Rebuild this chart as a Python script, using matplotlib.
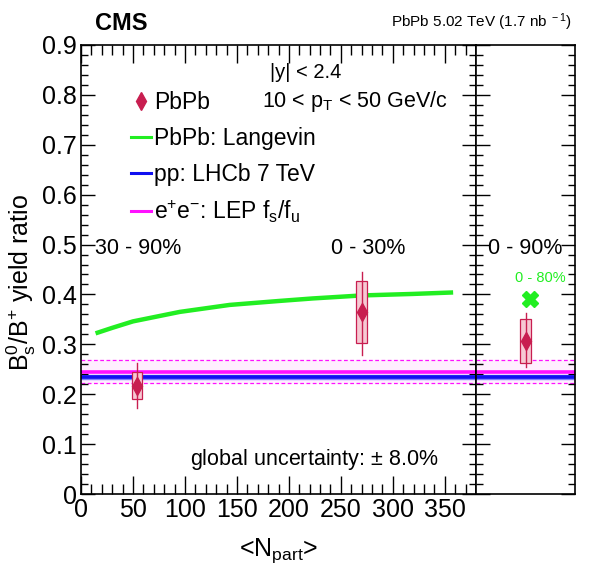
import matplotlib
matplotlib.use("Agg")
import matplotlib.pyplot as plt
from matplotlib.lines import Line2D
from matplotlib.patches import Rectangle

plt.rcParams['font.family'] = ['Liberation Sans', 'DejaVu Sans']
plt.rcParams['mathtext.fontset'] = 'custom'
plt.rcParams['mathtext.rm'] = 'Liberation Sans'
plt.rcParams['mathtext.it'] = 'Liberation Sans:italic'
plt.rcParams['mathtext.bf'] = 'Liberation Sans:bold'

# ---------------- data ----------------
centrality_labels = ["30 - 90%", "0 - 30%"]
npart = [54, 270]
npart_halfwidth = [5, 5]
ratio = [0.217, 0.364]
stat_lo = [0.172, 0.279]
stat_hi = [0.262, 0.444]
syst_lo = [0.190, 0.302]
syst_hi = [0.244, 0.427]

# integrated 0-90%
int_label = "0 - 90%"
int_ratio = 0.307
int_stat = (0.2545, 0.362)
int_syst = (0.262, 0.350)

# Langevin prediction
langevin_npart = [14, 30, 50, 95, 143, 191, 223, 270, 319, 358]
langevin_ratio = [0.322, 0.333, 0.346, 0.365, 0.379, 0.387, 0.392, 0.398, 0.401, 0.404]
langevin_int_label = "0 - 80%"
langevin_int = 0.390

# reference values
lhcb_pp = 0.235
lhcb_pp_err = 0.004
lep_fsfu = 0.2445
lep_lo = 0.223
lep_hi = 0.268

xlim = (0, 380)
ylim = (0, 0.9)

c_data = '#C81E50'
c_box = '#F6C9D3'
c_green = '#22EE22'
c_blue = '#1010F0'
c_mag = '#FF10FF'

W, H = 596, 572
fig = plt.figure(figsize=(W / 100, H / 100), dpi=100)

def fx(px):
    return px / W

def fy(py):
    return 1 - py / H

left, right, mid, top, bot = 81, 575, 476, 45, 494
ax1 = fig.add_axes([fx(left), fy(bot), fx(mid - left), (bot - top) / H])
ax2 = fig.add_axes([fx(mid), fy(bot), fx(right - mid), (bot - top) / H])

for ax in (ax1, ax2):
    ax.set_ylim(*ylim)
    for s in ax.spines.values():
        s.set_linewidth(1.2)

ax1.set_xlim(*xlim)
ax2.set_xlim(0, 1)

# reference bands/lines in both panels
for ax in (ax1, ax2):
    ax.axhspan(lep_lo, lep_hi, color='#FFEEFF', zorder=0)
    ax.axhline(lep_lo, color=c_mag, lw=0.9, ls=(0, (3, 2)), zorder=1)
    ax.axhline(lep_hi, color=c_mag, lw=0.9, ls=(0, (3, 2)), zorder=1)
    ax.axhspan(lhcb_pp - lhcb_pp_err, lhcb_pp + lhcb_pp_err, color='#8080FF', zorder=1)
    ax.axhline(lhcb_pp, color=c_blue, lw=2.6, zorder=2)
    ax.axhline(lep_fsfu, color=c_mag, lw=2.6, zorder=2)

# Langevin curve
ax1.plot(langevin_npart, langevin_ratio, color=c_green, lw=3.2, zorder=3,
         solid_capstyle='butt')

# data points
for x, hw, y, slo, shi, elo, ehi in zip(npart, npart_halfwidth, ratio, syst_lo, syst_hi, stat_lo, stat_hi):
    ax1.add_patch(Rectangle((x - hw, slo), 2 * hw, shi - slo, facecolor=c_box,
                            edgecolor=c_data, lw=0.9, zorder=4))
    ax1.plot([x, x], [elo, ehi], color=c_data, lw=1.0, zorder=5)
    ax1.plot([x], [y], marker='d', ms=9, color=c_data, mec=c_data, zorder=6)

# integrated point
xc = 0.5
ax2.add_patch(Rectangle((xc - 0.055, int_syst[0]), 0.11, int_syst[1] - int_syst[0],
                        facecolor=c_box, edgecolor=c_data, lw=0.9, zorder=4))
ax2.plot([xc, xc], list(int_stat), color=c_data, lw=1.0, zorder=5)
ax2.plot([xc], [int_ratio], marker='d', ms=9, color=c_data, zorder=6)
ax2.plot([xc + 0.05], [langevin_int], marker='X', ms=12, color=c_green, mec=c_green, zorder=6)
ax2.text(xc + 0.15, 0.432, langevin_int_label, color=c_green, fontsize=10.5,
         ha='center', va='center')

# ticks ROOT style
ax1.set_xticks(range(0, 351, 50))
ax1.set_xticks(range(0, 381, 10), minor=True)
ax1.set_yticks([i / 10 for i in range(10)])
ax1.set_yticklabels(['0', '0.1', '0.2', '0.3', '0.4', '0.5', '0.6', '0.7', '0.8', '0.9'])
ax1.set_yticks([i / 50 for i in range(46)], minor=True)
ax1.tick_params(which='both', direction='in', top=True, right=True, labelsize=18)
ax1.tick_params(which='major', length=13, width=1)
ax1.tick_params(which='minor', length=7, width=1)
ax1.tick_params(axis='y', which='major', length=10, pad=3)
ax1.tick_params(axis='y', which='minor', length=5)
ax1.tick_params(axis='x', pad=3)

ax2.set_xticks([])
ax2.set_yticks([i / 10 for i in range(10)])
ax2.set_yticks([i / 50 for i in range(46)], minor=True)
ax2.tick_params(which='both', direction='in', left=True, right=True, labelleft=False)
ax2.tick_params(which='major', length=10, width=1)
ax2.tick_params(which='minor', length=5, width=1)

# category labels
ax1.text(55, 0.492, centrality_labels[0], fontsize=15.5, ha='center', va='center')
ax1.text(276, 0.492, centrality_labels[1], fontsize=15.5, ha='center', va='center')
ax2.text(0.5, 0.492, int_label, fontsize=15.5, ha='center', va='center')

# legend
handles = [
    Line2D([], [], marker='d', ms=9, color=c_data, ls='none'),
    Line2D([], [], color=c_green, lw=2.2),
    Line2D([], [], color=c_blue, lw=2.2),
    Line2D([], [], color=c_mag, lw=2.2),
]
labels = ['PbPb', 'PbPb: Langevin', 'pp: LHCb 7 TeV',
          r'e$^{+}$e$^{-}$: LEP f$_{\rm s}$/f$_{\rm u}$']
ax1.legend(handles, labels, loc='upper left', bbox_to_anchor=(0.103, 0.917),
           frameon=False, fontsize=16.5, handlelength=0.9, handletextpad=0.1,
           labelspacing=0.55, borderaxespad=0)

# annotations
fig.text(fx(270), fy(72), '|y| < 2.4', fontsize=14.5, ha='left', va='center')
fig.text(fx(262), fy(101), r'10 < p$_{\rm T}$ < 50 GeV/c', fontsize=15.5, ha='left', va='center')
fig.text(fx(190), fy(460), r'global uncertainty: $\pm$ 8.0%', fontsize=15.5, ha='left', va='center')
fig.text(fx(121), fy(24), 'CMS', fontsize=17, fontweight='bold', ha='center', va='center')
fig.text(fx(572), fy(22), r'PbPb 5.02 TeV (1.7 nb$^{\ -1}$)', fontsize=11, ha='right', va='center')

fig.text(fx(279), fy(551), r'<N$_{\rm part}$>', fontsize=18, ha='center', va='center')
fig.text(fx(21), fy(283), r'B$_{\rm s}^{0}$/B$^{+}$ yield ratio', fontsize=18,
         ha='center', va='center', rotation=90)

fig.savefig('out.png', dpi=100)
